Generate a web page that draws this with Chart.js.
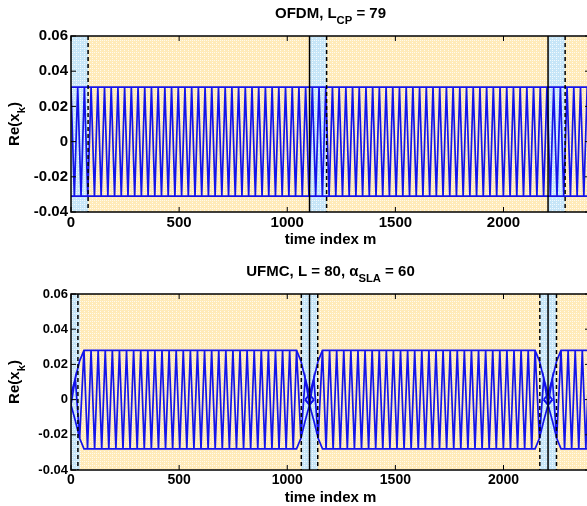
<!DOCTYPE html>
<html>
<head>
<meta charset="utf-8">
<script src="https://cdn.jsdelivr.net/npm/chart.js@4/dist/chart.umd.min.js"></script>
<style>
  html, body { margin: 0; padding: 0; background: #fff; overflow: hidden; }
  #wrap { position: relative; width: 587px; height: 506px; overflow: hidden; }
  .panel { position: absolute; left: 0; width: 600px; height: 253px; }
</style>
</head>
<body>
<div id="wrap">
  <div class="panel" style="top:0"><canvas id="ofdmChart" width="600" height="253"></canvas></div>
  <div class="panel" style="top:253px"><canvas id="ufmcChart" width="600" height="253"></canvas></div>
</div>
<script>
// axes (shared by both panels)
const xTicks = [0, 500, 1000, 1500, 2000];
const xTickLabels = ["0", "500", "1000", "1500", "2000"];
const yTicks = [-0.04, -0.02, 0, 0.02, 0.04, 0.06];
const yTickLabels = ["-0.04", "-0.02", "0", "0.02", "0.04", "0.06"];
const xRange = [0, 2400];
const yRange = [-0.04, 0.06];

// OFDM panel
const ofdmSymbolStarts = [0, 1103, 2206];
const ofdmCpLength = 79;
const ofdmAmplitude = 0.031;
const ofdmHalfPeriod = 15.5;

// UFMC panel
const ufmcSymbolStarts = [0, 1103, 2206];
const ufmcSymbolLength = 1103;
const ufmcGuardFrom = [-40, 1065, 2168];
const ufmcGuardTo = [40, 1141, 2245];
const ufmcDashed = [32, 1065, 1141, 2168, 2245];
const ufmcRampTimes = [-20, 0, 20, 40, 60];        // relative to the symbol edge
const ufmcRampValues = [0, 0.003, 0.012, 0.022, 0.028];
const ufmcAmplitude = 0.028;
const ufmcHalfPeriod = 16.4;

const BLUE = "rgb(20,20,235)";
const FONT = "'Liberation Sans', Arial, Helvetica, sans-serif";

function makePattern(base, dots) {
  const c = document.createElement("canvas");
  c.width = 4; c.height = 4;
  const g = c.getContext("2d");
  g.fillStyle = base;
  g.fillRect(0, 0, 4, 4);
  g.fillStyle = dots;
  g.fillRect(0, 0, 1, 1);
  g.fillRect(2, 0, 1, 1);
  g.fillRect(0, 2, 1, 1);
  return c;
}

// draws text with subscript pieces, centred on cx
function drawRich(ctx, parts, cx, baseline, size) {
  const fonts = parts.map(p => "bold " + (p.sub ? size * 0.75 : size) + "px " + FONT);
  let total = 0;
  const widths = parts.map((p, i) => { ctx.font = fonts[i]; const w = ctx.measureText(p.t).width; total += w; return w; });
  let x = cx - total / 2;
  ctx.textAlign = "left";
  ctx.textBaseline = "alphabetic";
  ctx.fillStyle = "#000";
  parts.forEach((p, i) => {
    ctx.font = fonts[i];
    ctx.fillText(p.t, x, baseline + (p.sub ? size * 0.38 : 0));
    x += widths[i];
  });
}

const plotDecor = {
  id: "plotDecor",
  beforeDatasetsDraw(chart, args, opts) {
    const { ctx, chartArea: a, scales: { x } } = chart;
    ctx.save();
    ctx.fillStyle = ctx.createPattern(makePattern("#FFEAB8", "#FFFAEE"), "repeat");
    ctx.fillRect(a.left, a.top, a.width, a.height);
    ctx.fillStyle = ctx.createPattern(makePattern("#C6E5F7", "#F2FAFE"), "repeat");
    opts.spans.forEach(([t0, t1]) => {
      const x0 = Math.max(x.getPixelForValue(t0), a.left);
      const x1 = x.getPixelForValue(t1);
      ctx.fillRect(x0, a.top, x1 - x0, a.height);
    });
    ctx.restore();
  },
  afterDatasetsDraw(chart, args, opts) {
    const { ctx, chartArea: a, scales: { x, y } } = chart;
    ctx.save();
    ctx.strokeStyle = "#000";
    ctx.lineWidth = 1.5;
    opts.solid.forEach(t => {
      const px = x.getPixelForValue(t);
      ctx.beginPath(); ctx.moveTo(px, a.top); ctx.lineTo(px, a.bottom); ctx.stroke();
    });
    ctx.setLineDash([4, 3]);
    opts.dashed.forEach(t => {
      const px = x.getPixelForValue(t);
      ctx.beginPath(); ctx.moveTo(px, a.top); ctx.lineTo(px, a.bottom); ctx.stroke();
    });
    ctx.setLineDash([]);
    // box and inward ticks
    ctx.strokeRect(a.left, a.top, a.width, a.height);
    ctx.lineWidth = 1;
    ctx.beginPath();
    xTicks.forEach(v => {
      const px = x.getPixelForValue(v);
      ctx.moveTo(px, a.bottom); ctx.lineTo(px, a.bottom - 5);
      ctx.moveTo(px, a.top); ctx.lineTo(px, a.top + 5);
    });
    yTicks.forEach(v => {
      const py = y.getPixelForValue(v);
      ctx.moveTo(a.left, py); ctx.lineTo(a.left + 5, py);
      ctx.moveTo(a.right, py); ctx.lineTo(a.right - 5, py);
    });
    ctx.stroke();
    ctx.restore();
  },
  afterDraw(chart, args, opts) {
    const { ctx, chartArea: a } = chart;
    const cx = (a.left + a.right) / 2;
    ctx.save();
    drawRich(ctx, opts.title, cx, a.top - 18, 15);
    drawRich(ctx, [{ t: "time index m" }], cx, a.bottom + 32, 15);
    ctx.translate(19, (a.top + a.bottom) / 2);
    ctx.rotate(-Math.PI / 2);
    drawRich(ctx, [{ t: "Re(x" }, { t: "k", sub: true }, { t: ")" }], 0, 0, 15);
    ctx.restore();
  }
};

function line(data) {
  return { data, borderColor: BLUE, borderWidth: 1.7, pointRadius: 0, showLine: true, fill: false };
}

function baseOptions(padTop, xHeight, yFont, xFont, decor) {
  return {
    responsive: false,
    animation: false,
    events: [],
    layout: { padding: { top: padTop, right: 10, left: 0, bottom: 0 } },
    plugins: { legend: { display: false }, tooltip: { enabled: false }, plotDecor: decor },
    scales: {
      x: {
        type: "linear", min: xRange[0], max: xRange[1],
        afterBuildTicks: s => { s.ticks = xTicks.map(v => ({ value: v })); },
        afterFit: s => { s.height = xHeight; },
        grid: { display: false, drawTicks: false },
        border: { display: false },
        ticks: {
          color: "#000", padding: 2, maxRotation: 0, autoSkip: false,
          font: { family: FONT, size: xFont, weight: "bold" },
          callback: v => xTickLabels[xTicks.indexOf(v)]
        }
      },
      y: {
        type: "linear", min: yRange[0], max: yRange[1],
        afterBuildTicks: s => { s.ticks = yTicks.map(v => ({ value: v })); },
        afterFit: s => { s.width = 71; },
        grid: { display: false, drawTicks: false },
        border: { display: false },
        ticks: {
          color: "#000", padding: 3, autoSkip: false,
          font: { family: FONT, size: yFont, weight: "bold" },
          callback: v => yTickLabels[yTicks.indexOf(v)]
        }
      }
    }
  };
}

// OFDM: continuous zigzag inside a flat envelope
const ofdmWave = [];
let sign = 1;
for (let t = 0; t <= xRange[1]; t += ofdmHalfPeriod) {
  ofdmWave.push({ x: t, y: sign * ofdmAmplitude });
  sign = -sign;
}
const ofdmTop = [{ x: xRange[0], y: ofdmAmplitude }, { x: xRange[1], y: ofdmAmplitude }];
const ofdmBottom = [{ x: xRange[0], y: -ofdmAmplitude }, { x: xRange[1], y: -ofdmAmplitude }];

new Chart(document.getElementById("ofdmChart"), {
  type: "scatter",
  data: { datasets: [line(ofdmWave), line(ofdmTop), line(ofdmBottom)] },
  options: baseOptions(36, 41, 15, 15, {
    title: [{ t: "OFDM, L" }, { t: "CP", sub: true }, { t: " = 79" }],
    spans: ofdmSymbolStarts.map(s => [s, s + ofdmCpLength]),
    solid: ofdmSymbolStarts.slice(1),
    dashed: ofdmSymbolStarts.map(s => s + ofdmCpLength)
  }),
  plugins: [plotDecor]
});

// UFMC: each symbol ramps up and down at its edges
const ufmcSets = [];
ufmcSymbolStarts.forEach(s => {
  const e = s + ufmcSymbolLength;
  const wave = [], upper = [], lower = [];
  let sg = 1;
  ufmcRampTimes.forEach((rt, i) => {
    wave.push({ x: s + rt, y: sg * ufmcRampValues[i] }); sg = -sg;
    upper.push({ x: s + rt, y: ufmcRampValues[i] });
    lower.push({ x: s + rt, y: -ufmcRampValues[i] });
  });
  const flatEnd = e - ufmcRampTimes[ufmcRampTimes.length - 1];
  for (let t = s + ufmcRampTimes[ufmcRampTimes.length - 1] + ufmcHalfPeriod; t < flatEnd; t += ufmcHalfPeriod) {
    wave.push({ x: t, y: sg * ufmcAmplitude }); sg = -sg;
  }
  for (let i = ufmcRampTimes.length - 1; i >= 0; i--) {
    const t = e - ufmcRampTimes[i];
    wave.push({ x: t, y: sg * ufmcRampValues[i] }); sg = -sg;
    upper.push({ x: t, y: ufmcRampValues[i] });
    lower.push({ x: t, y: -ufmcRampValues[i] });
  }
  ufmcSets.push(line(wave), line(upper), line(lower));
});

new Chart(document.getElementById("ufmcChart"), {
  type: "scatter",
  data: { datasets: ufmcSets },
  options: baseOptions(41, 36, 13, 14, {
    title: [{ t: "UFMC, L = 80, α" }, { t: "SLA", sub: true }, { t: " = 60" }],
    spans: ufmcGuardFrom.map((g, i) => [g, ufmcGuardTo[i]]),
    solid: ufmcSymbolStarts.slice(1),
    dashed: ufmcDashed
  }),
  plugins: [plotDecor]
});
</script>
</body>
</html>
